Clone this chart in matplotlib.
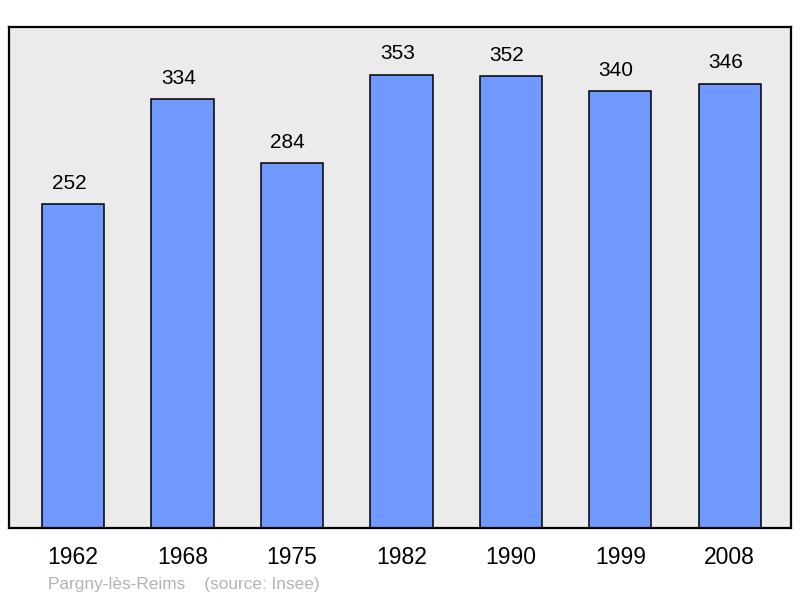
import numpy as np
import matplotlib.pyplot as plt

# donnees
years = ["1962", "1968", "1975", "1982", "1990", "1999", "2008"]
population = [252, 334, 284, 353, 352, 340, 346]

plt.rcParams['font.family'] = ['Liberation Sans', 'DejaVu Sans']

fig = plt.figure(figsize=(8, 5.98), dpi=100)
ax = fig.add_axes([9 / 800, 1 - 528 / 598, 782 / 800, 501 / 598])
ax.set_facecolor('#ebebeb')

x = np.arange(len(years))
ax.bar(x, population, width=0.57, color='#7099ff', edgecolor='black', linewidth=1.1, zorder=2)

# etiquettes au-dessus des barres (un peu decalees a gauche comme l'original)
for xi, v in zip(x, population):
    ax.annotate(str(v), (xi, v), xytext=(-3, 11), textcoords='offset points',
                ha='center', va='baseline', fontsize=15)

ax.set_xlim(-0.585, 6.56)
ax.set_ylim(0, 390)
ax.set_xticks(x)
ax.set_xticklabels(years, fontsize=16.5)
ax.tick_params(axis='x', length=0, pad=13)
ax.set_yticks([])
for s in ax.spines.values():
    s.set_linewidth(1.6)

fig.text(48 / 800, 1 - 584 / 598, "Pargny-lès-Reims    (source: Insee)",
         fontsize=12.4, color='#b3b3b3', va='center', ha='left')

fig.savefig("out.png", dpi=100)
